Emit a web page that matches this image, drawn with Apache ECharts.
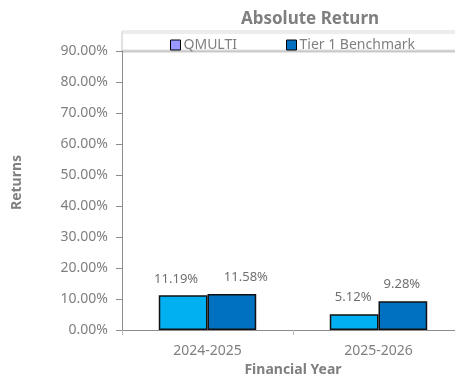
<!DOCTYPE html>
<html>
<head>
<meta charset="utf-8">
<script src="https://cdn.jsdelivr.net/npm/echarts@6/dist/echarts.min.js"></script>
<style>
  html, body { margin: 0; padding: 0; background: #fff; }
  #chart { width: 455px; height: 376px; }
</style>
</head>
<body>
<div id="chart"></div>
<script>
// Financial years on the category axis
const years = ['2024-2025', '2025-2026'];
// Absolute returns in percent
const qmulti = [11.19, 5.12];
const benchmark = [11.58, 9.28];
const seriesNames = ['QMULTI', 'Tier 1 Benchmark'];
// Horizontal nudges that keep neighbouring value labels apart
const qmultiLabelShift = [-7, -1];
const benchmarkLabelShift = [14, -1];

const FONT = '"Noto Sans", sans-serif';
const GREY = '#7f7f7f';

const chart = echarts.init(document.getElementById('chart'));

const labelCfg = {
  show: true,
  position: 'top',
  distance: 10,
  color: '#6f6f6f',
  fontFamily: FONT,
  fontSize: 13,
  formatter: p => p.value.toFixed(2) + '%'
};

const withShift = (vals, shifts) =>
  vals.map((v, i) => ({ value: v, label: { offset: [shifts[i], 0] } }));

chart.setOption({
  animation: false,
  title: {
    text: 'Absolute Return',
    left: 305,
    textAlign: 'center',
    top: 6,
    textStyle: { fontFamily: FONT, fontWeight: 'bold', fontSize: 17, color: GREY }
  },
  graphic: [{
    // legend frame with a soft lower edge
    type: 'rect',
    shape: { x: 122, y: 31, width: 345, height: 19 },
    style: {
      fill: '#fff', stroke: '#dadada', lineWidth: 1,
      shadowColor: 'rgba(0,0,0,0.16)', shadowOffsetY: 2, shadowBlur: 1
    },
    z: 0
  }],
  legend: [{
    data: [{ name: seriesNames[0], icon: 'rect', itemStyle: { color: '#9999ff', borderColor: '#000', borderWidth: 1 } }],
    left: 165, top: 33,
    itemWidth: 10, itemHeight: 10, itemGap: 4,
    textStyle: { fontFamily: FONT, fontSize: 14, color: GREY, padding: [0, 0, 0, -2] },
    z: 5
  }, {
    data: [{ name: seriesNames[1], icon: 'rect', itemStyle: { color: '#0070c0', borderColor: '#000', borderWidth: 1 } }],
    left: 281, top: 33,
    itemWidth: 10, itemHeight: 10, itemGap: 4,
    textStyle: { fontFamily: FONT, fontSize: 14, color: GREY, padding: [0, 0, 0, -2] },
    z: 5
  }],
  grid: { left: 122, right: -9, top: 51, bottom: 46, containLabel: false, outerBoundsMode: 'none' },
  xAxis: {
    type: 'category',
    data: years,
    name: 'Financial Year',
    nameLocation: 'middle',
    nameGap: 30,
    nameTextStyle: { fontFamily: FONT, fontWeight: 'bold', fontSize: 14, color: GREY },
    axisLine: { lineStyle: { color: '#8c8c8c', width: 1 } },
    axisTick: { show: true, length: 5, inside: false, lineStyle: { color: '#bbb' } },
    axisLabel: { fontFamily: FONT, fontSize: 14, color: GREY, margin: 14 }
  },
  yAxis: {
    type: 'value',
    min: 0, max: 90, interval: 10,
    name: 'Returns',
    nameLocation: 'middle',
    nameRotate: 90,
    nameGap: 98,
    nameTextStyle: { fontFamily: FONT, fontWeight: 'bold', fontSize: 14, color: GREY, padding: [0, 0, 0, 16] },
    axisLine: { show: true, lineStyle: { color: '#8c8c8c', width: 1 } },
    axisTick: { show: true, length: 6, lineStyle: { color: '#8c8c8c' } },
    splitLine: { show: false },
    axisLabel: {
      fontFamily: FONT, fontSize: 14, color: GREY, margin: 14,
      formatter: v => v.toFixed(2) + '%'
    }
  },
  series: [{
    name: seriesNames[0],
    type: 'bar',
    data: withShift(qmulti, qmultiLabelShift),
    barGap: '0%',
    barCategoryGap: '43%',
    itemStyle: { color: '#00b0f0', borderColor: '#111', borderWidth: 1.5 },
    label: labelCfg
  }, {
    name: seriesNames[1],
    type: 'bar',
    data: withShift(benchmark, benchmarkLabelShift),
    itemStyle: { color: '#0070c0', borderColor: '#111', borderWidth: 1.5 },
    label: labelCfg
  }]
});
</script>
</body>
</html>
